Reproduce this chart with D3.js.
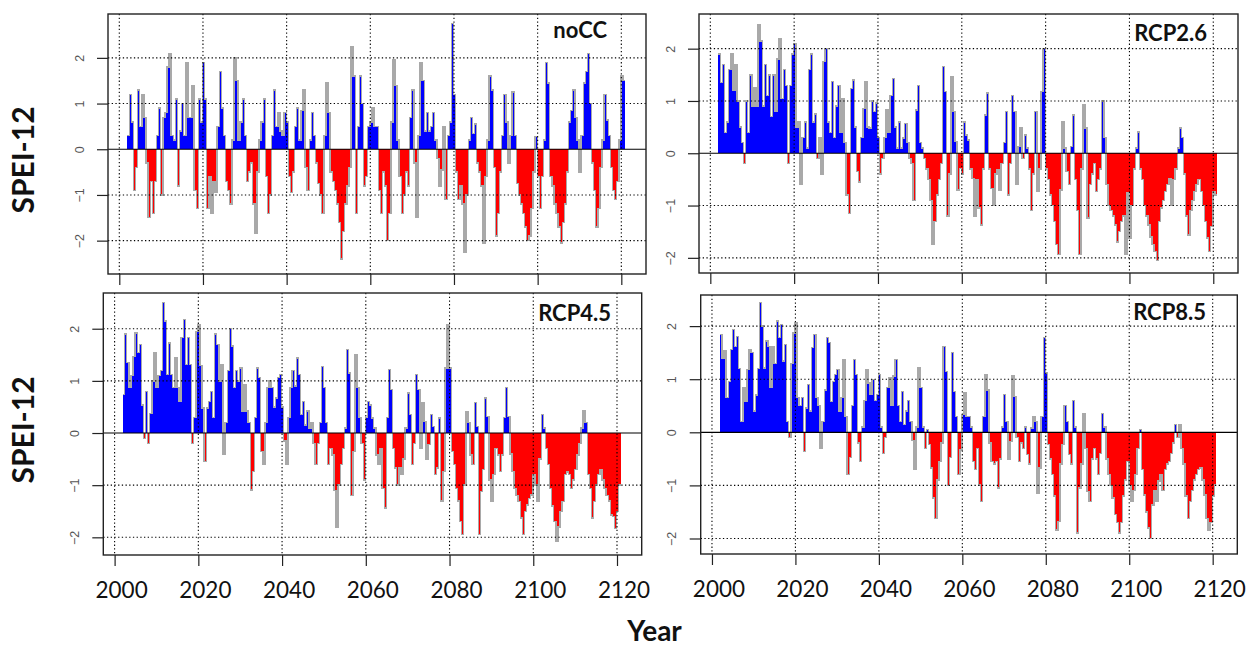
<!DOCTYPE html>
<html>
<head>
<meta charset="utf-8">
<script src="https://cdn.jsdelivr.net/npm/d3@7"></script>
<style>
  body { margin: 0; background: #ffffff; }
  svg { display: block; }
</style>
</head>
<body>
<svg id="chart" width="1257" height="647"></svg>
<script>
// ---------------- DATA ----------------
// Semi-annual SPEI-12 readings, first value at startYear, one value every stepYears
const startYear = 2001.9;
const stepYears = 0.5;
const xTickYears = [2000, 2020, 2040, 2060, 2080, 2100, 2120];
const yTickValues = [-2, -1, 0, 1, 2];
const scenarioNames = ["noCC", "RCP2.6", "RCP4.5", "RCP8.5"];
const yAxisTitle = "SPEI-12";
const xAxisTitle = "Year";

const noCC = [
  0.3,1.2, 0.6,-0.9, -0.4,1.3, 0.5,1.2, 0.7,-0.3, -1.5,-0.7, -1.4,-0.7, 0.3,0.9, -1.0,0.7, 0.8,1.8,
  2.1,0.3, 0.2,1.1, -0.8,0.4, 1.0,0.3, 1.9,0.7, 0.7,1.4, -0.9,-1.3, 1.1,0.6, 1.9,1.1, -1.3,-0.6,
  -1.4,-0.7, -0.95,0.5, 1.7,0.9, 0.3,-0.7, -0.9,-1.2, 0.2,2.0, 1.5,0.2, 0.6,1.1, 0.3,-0.7, -0.5,-0.3,
  -1.2,-1.85, -0.5,0.2, 0.6,1.1, -0.6,-1.4, -1.0,0.3, 1.3,0.5, 0.8,0.4, 0.3,0.8, 0.6,-0.6, -0.95,-0.5,
  0.5,0.9, 0.2,0.85, 1.3,-0.4, -0.9,0.2, 0.8,0.3, -0.3,-0.75, -1.0,-1.4, 0.3,1.45, 0.8,-0.5, -0.7,-0.9,
  -1.2,-1.6, -2.4,-1.8, -1.2,-0.8, -0.4,2.25, 1.6,-1.4, 0.5,1.6, 1.0,-0.8, -0.6,0.5, 0.6,0.9, 0.5,0.5,
  -0.9,-1.4, -0.5,-0.8, -2.0,-1.4, 0.6,1.95, 1.4,0.2, -0.6,-1.4, -1.0,-0.5, -0.8,0.7, 1.3,-0.3, -1.5,0.3,
  1.9,1.5, 0.4,0.8, 0.4,0.5, 0.8,0.2, -0.2,-0.8, -0.45,0.5, -1.1,0.3, 0.6,2.75, 1.2,-0.5, -1.1,-0.8,
  -1.2,-2.25, -1.0,0.2, 0.7,0.35, 0.55,-0.3, -0.5,-0.8, -2.05,-0.6, 0.2,1.6, 1.3,-0.4, -1.9,-1.4, -0.5,0.3,
  1.2,0.6, -0.3,0.3, 1.25,0.3, -0.75,-1.0, -1.2,-1.4, -1.7,-2.0, -1.9,-1.3, -0.5,0.28, -0.6,-1.3, -0.6,0.2,
  1.9,1.45, -0.6,-0.8, -1.2,-1.4, -1.7,-2.05, -1.6,-1.2, -0.5,0.6, 0.85,1.3, 0.7,0.2, -0.5,0.3, 1.45,1.7,
  2.1,1.0, -0.3,-0.9, -1.7,-1.3, -0.4,0.2, 1.2,0.64, 0.3,-0.4, -0.9,-1.1, -0.7,0.2, 1.6,1.5
];

const rcp26 = [
  1.9,1.35, 1.7,0.4, 0.6,1.6, 1.9,1.2, 1.7,1.0, 0.5,0.2, -0.2,1.0, 0.4,1.5, 0.9,1.25, 0.9,2.45,
  2.15,0.9, 1.7,1.1, 1.5,0.7, 1.5,0.8, 1.8,2.2, 1.05,1.6, 1.3,-0.2, 1.3,1.9, 2.1,0.5, 0.6,-0.6,
  0.3,0.6, 0.1,1.6, 1.9,0.6, 0.75,-0.1, 0.3,-0.4, 1.75,2.0, 0.6,0.4, 1.37,0.3, 0.9,1.3, 0.4,1.05,
  0.2,-0.8, -1.15,1.24, 1.4,0.5, -0.35,-0.55, 0.3,0.86, 1.37,0.5, 0.48,1.0, 0.8,0.96, 0.3,-0.4, -0.1,0.3,
  0.83,0.4, 1.1,1.43, 0.5,0.1, 0.6,0.1, 0.29,0.57, 0.2,-0.1, -0.2,-0.9, 0.83,1.3, 0.2,0.1, -0.1,-0.3,
  -0.5,-0.9, -1.75,-1.3, -0.8,-0.5, -0.2,1.66, 1.18,-1.2, -0.4,1.46, 0.8,0.22, -0.7,-0.29, -0.4,0.6, 0.35,0.25,
  -0.3,-0.48, -1.2,-0.5, -1.05,-1.37, -0.3,0.73, 1.15,-0.3, -0.67,-1.0, -0.4,-0.32, -0.7,-0.2, 0.2,0.8, -0.8,-0.2,
  1.1,0.8, -0.6,0.13, 0.48,-0.1, 0.35,0.1, -0.3,-1.1, -0.4,0.8, -0.73,-0.3, 1.18,2.0, -0.3,-0.5, -0.8,-1.0,
  -1.3,-1.75, -1.94,-0.7, 0.6,0.1, -0.35,-0.6, 0.13,0.73, -0.5,-1.1, -1.94,-0.3, 0.92,0.48, -1.24,-0.6, -0.4,-0.2,
  -0.73,-0.5, -0.3,1.0, 0.3,-0.6, -1.0,-1.1, -1.2,-1.37, -1.7,-1.5, -1.3,-1.2, -1.94,-0.75, -1.62,-1.0, -0.3,0.1,
  0.41,-0.3, -0.5,-1.0, -1.2,-1.37, -1.6,-1.75, -1.88,-2.05, -1.3,-1.05, -0.9,-0.73, -0.6,-0.48, -1.0,-0.5, -0.3,0.1,
  0.48,0.3, -0.4,-1.2, -1.56,-1.1, -0.9,-0.73, -0.6,-0.5, -0.73,-1.0, -1.3,-1.62, -1.88,-1.4, -0.73,-0.8
];

const rcp45 = [
  0.74,1.9, 1.35,0.87, 1.1,1.47, 1.92,1.54, 1.7,0.54, -0.1,0.8, -0.2,0.38, 1.0,1.54, 0.87,1.1, 1.2,2.5,
  2.15,1.12, 1.73,1.12, 0.87,1.44, 0.87,0.6, 1.83,2.18, 1.31,1.83, 1.31,-0.2, 0.3,1.95, 2.08,1.3, 0.48,-0.55,
  0.48,0.61, 0.8,0.3, 1.9,1.7, 1.0,1.31, -0.4,0.2, 1.2,2.0, 1.67,0.87, 1.2,1.0, 1.25,0.42, 0.93,0.42,
  0.2,-1.09, -0.74,0.3, 1.25,1.06, -0.35,-0.6, 0.2,0.87, 1.0,0.87, 0.5,0.67, 1.06,1.12, 0.5,-0.15, -0.6,0.3,
  0.87,1.2, 0.9,1.44, 1.12,0.35, 0.61,0.15, 0.42,0.1, 0.2,-0.2, -0.6,-0.2, 0.2,1.28, 0.87,0.2, -0.6,-0.3,
  -0.42,-1.1, -1.8,-1.0, -0.6,-0.3, 0.1,1.6, 1.15,-1.2, -0.35,1.5, 0.87,0.3, -0.2,-0.9, 0.3,0.61, 0.54,0.29,
  0.1,-0.42, -0.6,-0.3, -1.06,-1.44, 0.3,1.22, 0.83,-0.3, -0.67,-1.0, -0.67,-0.8, -0.5,0.1, 0.77,0.35, -0.6,-0.2,
  1.12,0.83, -0.3,0.58, 0.22,-0.5, -0.22,0.35, 0.13,-0.8, -0.67,0.29, -1.3,-0.74, 1.25,2.08, 1.25,-0.35, -0.6,-1.06,
  -1.3,-1.7, -1.95,-1.0, 0.4,0.2, -0.42,-0.6, 0.58,0.13, -1.95,-1.12, -0.7,0.67, 0.32,-0.9, -1.31,-0.8, -0.3,-0.42,
  -0.74,-0.42, 0.3,0.87, 0.32,-0.4, -0.74,-1.06, -1.2,-1.31, -1.63,-1.95, -1.5,-1.38, -1.25,-1.19, -0.8,-1.0, -1.31,-0.5,
  0.35,0.1, -0.3,-0.6, -1.06,-1.4, -1.7,-2.08, -1.8,-1.5, -1.31,-0.8, -0.75,-0.8, -1.06,-0.9, -0.7,-0.42, -0.2,0.1,
  0.42,0.2, -0.8,-1.06, -1.63,-1.31, -1.0,-0.8, -0.7,-0.9, -1.06,-1.2, -1.3,-1.57, -1.6,-1.83, -1.5,-1.0
];

const rcp85 = [
  1.84,1.4, 1.53,0.65, 0.96,1.56, 1.94,1.62, 1.81,1.2, 0.2,0.84, 0.58,1.18, 1.56,1.5, 0.4,0.7, 1.2,2.44,
  2.0,1.21, 1.72,1.62, 0.84,1.62, 1.3,2.1, 1.78,2.03, 1.34,1.65, 0.2,-0.1, 1.3,1.87, 2.06,0.65, 0.5,0.65,
  -0.36,0.46, 0.9,0.4, 1.6,1.84, 0.65,0.5, -0.3,0.2, 0.8,1.78, 1.69,0.58, 0.96,1.09, 1.18,0.4, 0.65,1.37,
  0.3,-0.8, -0.48,0.5, 1.37,1.09, -0.2,-0.55, 0.1,0.6, 1.18,0.93, 0.71,1.0, 0.6,0.71, 1.09,0.1, -0.4,-0.1,
  0.84,1.03, 0.5,1.06, 1.37,0.5, 0.2,0.77, 0.15,0.4, 0.6,0.2, -0.15,-0.7, 0.1,1.21, 0.84,0.1, -0.3,0.05,
  -0.23,-0.67, -1.24,-1.62, -0.9,-0.55, -0.2,1.62, 1.15,-1.0, -0.48,1.5, 0.77,0.3, -0.8,-0.33, 0.33,0.74, 0.3,0.3,
  0.1,-0.55, -0.7,-0.3, -0.99,-1.3, 0.3,1.09, 0.8,-0.2, -0.55,-0.6, -0.55,-1.05, -0.5,0.1, 0.71,0.2, -0.5,-0.17,
  1.06,0.68, -0.1,-0.55, -0.2,-0.3, 0.1,-0.42, -0.6,0.08, 0.3,0.2, -1.14,-0.67, 0.3,1.78, 1.12,-0.23, -0.5,-0.8,
  -1.2,-1.84, -1.68,-0.6, -0.23,0.5, 0.2,-0.42, -0.6,0.6, 0.1,-1.9, -1.05,-0.6, 0.35,-0.3, -1.12,-1.3, -0.5,-0.3,
  -0.5,-0.8, -0.4,0.35, 0.1,-0.5, -0.8,-1.0, -1.24,-1.55, -1.7,-1.9, -1.7,-1.2, -0.9,-0.55, -1.0,-1.3, -1.1,-0.8,
  -0.3,0.05, -0.7,-1.18, -1.5,-1.8, -2.0,-1.37, -1.1,-1.3, -0.92,-0.8, -1.1,-0.7, -0.6,-0.55, -0.4,-0.2, 0.15,-0.1,
  0.15,-0.3, -0.6,-1.2, -1.62,-1.3, -1.1,-0.9, -0.8,-0.7, -0.67,-0.9, -1.18,-1.62, -1.84,-1.7, -1.2,-0.99
];

// ---------------- LAYOUT ----------------
const seriesList = [noCC, rcp26, rcp45, rcp85];
const panelLayout = [
  { box: [108, 646, 14, 274],     ylim: [-2.73, 2.96], xLabels: false, title: [607, 38] },
  { box: [699, 1238, 14, 273],    ylim: [-2.29, 2.663], xLabels: false, title: [1207, 41] },
  { box: [103.3, 641.7, 293, 555], ylim: [-2.339, 2.685], xLabels: true, title: [611, 321] },
  { box: [700.7, 1237.3, 295, 554], ylim: [-2.292, 2.586], xLabels: true, title: [1206, 320] }
];
const xlim = [1997.3, 2125.9];

const colPos = "#0000ff", colNeg = "#ff0000", colLine = "#a9a9a9";
const svg = d3.select("#chart");
svg.append("rect").attr("width", 1257).attr("height", 647).attr("fill", "#fff");

panelLayout.forEach((p, idx) => {
  const data = seriesList[idx];
  const [bx0, bx1, by0, by1] = p.box;
  const x = d3.scaleLinear().domain(xlim).range([bx0, bx1]);
  const y = d3.scaleLinear().domain(p.ylim).range([by1, by0]);

  const clipId = "clip" + idx;
  svg.append("clipPath").attr("id", clipId)
    .append("rect").attr("x", bx0).attr("y", by0).attr("width", bx1 - bx0).attr("height", by1 - by0);

  const g = svg.append("g");
  const plot = g.append("g").attr("clip-path", `url(#${clipId})`);

  const pts = data.map((v, i) => ({ t: startYear + i * stepYears, v }));
  pts.push({ t: startYear + data.length * stepYears, v: data[data.length - 1] });

  const areaPos = d3.area().curve(d3.curveStepAfter)
    .x(d => x(d.t)).y0(y(0)).y1(d => y(Math.max(0, d.v)));
  const areaNeg = d3.area().curve(d3.curveStepAfter)
    .x(d => x(d.t)).y0(y(0)).y1(d => y(Math.min(0, d.v)));
  const line = d3.line().curve(d3.curveStepAfter).x(d => x(d.t)).y(d => y(d.v));

  plot.append("path").attr("d", areaPos(pts)).attr("fill", colPos).attr("shape-rendering", "crispEdges");
  plot.append("path").attr("d", areaNeg(pts)).attr("fill", colNeg).attr("shape-rendering", "crispEdges");
  plot.append("path").attr("d", line(pts)).attr("fill", "none")
    .attr("stroke", colLine).attr("stroke-width", 1.4).attr("stroke-linejoin", "miter")
    .attr("shape-rendering", "crispEdges");

  // dotted grid
  plot.selectAll(".gx").data(xTickYears).join("line")
    .attr("x1", d => x(d)).attr("x2", d => x(d)).attr("y1", by0).attr("y2", by1)
    .attr("stroke", "#000").attr("stroke-width", 1.1).attr("stroke-dasharray", "1.3,2.4");
  plot.selectAll(".gy").data(yTickValues.filter(v => v !== 0)).join("line")
    .attr("x1", bx0).attr("x2", bx1).attr("y1", d => y(d)).attr("y2", d => y(d))
    .attr("stroke", "#000").attr("stroke-width", 1.1).attr("stroke-dasharray", "1.3,2.4");
  // zero line
  plot.append("line").attr("x1", bx0).attr("x2", bx1).attr("y1", y(0)).attr("y2", y(0))
    .attr("stroke", "#000").attr("stroke-width", 1.2);

  // box
  g.append("rect").attr("x", bx0).attr("y", by0).attr("width", bx1 - bx0).attr("height", by1 - by0)
    .attr("fill", "none").attr("stroke", "#222").attr("stroke-width", 1.4);

  // y axis
  const yAxis = d3.axisLeft(y).tickValues(yTickValues).tickSize(11).tickFormat(d3.format("d"));
  const ya = g.append("g").attr("transform", `translate(${bx0},0)`).call(yAxis);
  ya.select(".domain").remove();
  ya.selectAll(".tick line").attr("stroke", "#222").attr("stroke-width", 1.2);
  ya.selectAll(".tick text")
    .attr("x", 0)
    .attr("transform", "translate(-29,0) rotate(-90)")
    .attr("text-anchor", "middle").attr("dy", "0.36em")
    .attr("font-family", "'Liberation Sans', Arial, sans-serif").attr("font-size", 12.5)
    .attr("fill", "#555");

  // x axis
  const xAxis = d3.axisBottom(x).tickValues(xTickYears).tickSize(11).tickFormat(d3.format("d"));
  const xa = g.append("g").attr("transform", `translate(0,${by1})`).call(xAxis);
  xa.select(".domain").remove();
  xa.selectAll(".tick line").attr("stroke", "#222").attr("stroke-width", 1.2);
  if (p.xLabels) {
    xa.selectAll(".tick text")
      .attr("x", 6.5).attr("y", 43).attr("dy", null)
      .attr("font-family", "Lato, 'Open Sans', sans-serif").attr("font-size", 22.5)
      .attr("fill", "#111");
  } else {
    xa.selectAll(".tick text").remove();
  }

  // scenario title
  g.append("text").attr("x", p.title[0]).attr("y", p.title[1])
    .attr("text-anchor", "end")
    .attr("font-family", "Lato, 'Open Sans', sans-serif").attr("font-weight", "bold")
    .attr("font-size", 22).attr("fill", "#111")
    .text(scenarioNames[idx]);
});

// Y axis titles
[160, 430].forEach(cy => {
  svg.append("text")
    .attr("transform", `translate(23,${cy}) rotate(-90)`)
    .attr("text-anchor", "middle").attr("dy", "0.36em")
    .attr("font-family", "Lato, 'Open Sans', sans-serif").attr("font-weight", "bold")
    .attr("font-size", 30).attr("fill", "#111")
    .text(yAxisTitle);
});

// X axis title
svg.append("text").attr("x", 654.5).attr("y", 641)
  .attr("text-anchor", "middle")
  .attr("font-family", "Lato, 'Open Sans', sans-serif").attr("font-weight", "bold")
  .attr("font-size", 28).attr("fill", "#111")
  .text(xAxisTitle);
</script>
</body>
</html>
